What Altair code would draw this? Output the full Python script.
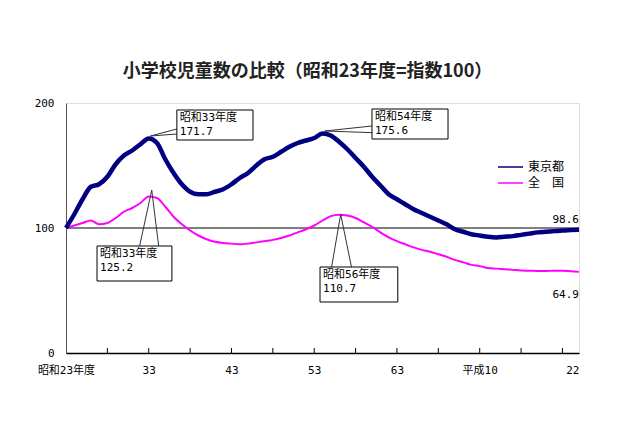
import json
import altair as alt
import pandas as pd

# ---------------- data ----------------
years = list(range(1948, 2011))
tokyo = [100, 111, 123, 133, 135, 141, 151, 158, 162, 167,
         171.7, 168, 155, 144, 135, 129, 127, 127, 129, 131,
         135, 140, 144, 150, 155, 157, 161, 165, 168, 170,
         172, 175.6, 174, 169, 163, 156, 149, 141, 134, 127,
         123, 119, 115, 112, 109, 106, 103, 99, 97, 95,
         94, 93, 92.5, 93, 93.5, 94.5, 95.5, 96.5, 97, 97.5,
         98, 98.3, 98.6]
national = [100, 102, 104, 106, 103, 104, 108, 113, 116, 120,
            125.2, 124, 117, 109, 103, 98, 94, 91, 89, 88,
            87.5, 87, 87.5, 88.5, 89.5, 90.5, 92, 94, 96.5, 99,
            102, 106, 109.5, 110.7, 110, 108, 104.5, 101, 96.5, 92.5,
            89.5, 87, 84.5, 82.5, 81, 79, 77, 74.5, 72.5, 70.5,
            69.5, 68, 67.5, 67, 66.5, 66, 65.8, 65.6, 65.6, 65.8,
            65.8, 65.4, 64.9]
series_names = ["東京都", "全　国"]
series_colors = ["#000080", "#FF00FF"]

label_years = [1948, 1958, 1968, 1978, 1988, 1998, 2010]
label_texts = ["昭和23年度", "33", "43", "53", "63", "平成10", "22"]
minor_tick_years = [1953, 1958, 1963, 1968, 1973, 1978, 1983, 1988, 1993, 1998, 2003, 2008]
y_ticks = [0, 100, 200]
base_index = [100]

callout_series = ["東京都", "全　国", "東京都", "全　国"]
callout_years = [1958, 1958, 1979, 1981]
callout_names = ["昭和33年度", "昭和33年度", "昭和54年度", "昭和56年度"]
callout_values = [171.7, 125.2, 175.6, 110.7]

end_series = ["東京都", "全　国"]
end_values = [98.6, 64.9]

title_text = "小学校児童数の比較（昭和23年度=指数100）"

# ---------------- layout (callout geometry in axis units) ----------------
callout_layout = [
    dict(box=(1961.4, 1970.6, 194.4, 170.4), tip=(1958.2, 173.6), bases=((1961.4, 179.2), (1961.4, 175.2))),
    dict(box=(1951.75, 1960.8, 85.6, 57.6), tip=(1958.36, 130.4), bases=((1956.9, 85.6), (1959.2, 85.6))),
    dict(box=(1984.98, 1994.17, 195.2, 171.2), tip=(1979.27, 177.6), bases=((1984.98, 181.6), (1984.98, 176.3))),
    dict(box=(1978.7, 1988.1, 68.8, 40.8), tip=(1981.2, 111.0), bases=((1980.1, 68.8), (1982.5, 68.8))),
]

FONT = "DejaVu Sans Mono, Noto Sans CJK JP"
JFONT = "Noto Sans CJK JP"

# ---------------- tables ----------------
rows = []
for y, t, n in zip(years, tokyo, national):
    rows.append(dict(year=y, value=t, series=series_names[0]))
    rows.append(dict(year=y, value=n, series=series_names[1]))
lines_df = pd.DataFrame(rows)

boxes, pointers = [], []
for i, (s, yr, nm, v, lay) in enumerate(zip(callout_series, callout_years, callout_names, callout_values, callout_layout)):
    x0, x1, yt, yb = lay["box"]
    boxes.append(dict(id=i, x0=x0, x1=x1, yt=yt, yb=yb, label=f"{nm}\n{v}"))
    (bx1, by1), (bx2, by2) = lay["bases"]
    tx, ty = lay["tip"]
    pointers += [dict(id=i, o=0, x=bx1, y=by1), dict(id=i, o=1, x=tx, y=ty), dict(id=i, o=2, x=bx2, y=by2)]
boxes_df = pd.DataFrame(boxes)
pointers_df = pd.DataFrame(pointers)

end_df = pd.DataFrame(dict(series=end_series, value=end_values, year=[years[-1]] * 2,
                           label=[f"{v}" for v in end_values]))
ticks_df = pd.DataFrame(dict(year=minor_tick_years))
base_df = pd.DataFrame(dict(value=base_index))

# ---------------- scales / axes ----------------
label_map = json.dumps({str(k): v for k, v in zip(label_years, label_texts)}, ensure_ascii=False)
xscale = alt.Scale(domain=[years[0], years[-1]], nice=False, zero=False)
yscale = alt.Scale(domain=[0, 200], nice=False)
color_scale = alt.Scale(domain=series_names, range=series_colors)

x_axis = alt.Axis(values=label_years, labelExpr=f"{label_map}[toString(datum.value)]",
                  ticks=False, grid=False, title=None, domainColor="#000000", domainWidth=1.5,
                  labelFont=FONT, labelFontSize=11, labelColor="#000000", labelPadding=11,
                  labelAlign=alt.ExprRef(expr=f"datum.value == {years[-1]} ? 'right' : 'center'"),
                  labelFlush=False, labelOverlap=False)
y_axis = alt.Axis(values=y_ticks, ticks=False, grid=False, title=None, domainColor="#555555",
                  labelFont=FONT, labelFontSize=11, labelColor="#000000", labelPadding=12)

base = alt.Chart(lines_df)

baseline = alt.Chart(base_df).mark_rule(color="#000000", strokeWidth=1).encode(
    y=alt.Y("value:Q", scale=yscale, axis=y_axis))

minor_ticks = alt.Chart(ticks_df).mark_rule(color="#000000", strokeWidth=1).encode(
    x=alt.X("year:Q", scale=xscale, axis=x_axis), y=alt.datum(0), y2=alt.datum(4))

legend = alt.Legend(title=None, orient="none", legendX=431, legendY=56, symbolType="stroke",
                    symbolSize=625, symbolStrokeWidth=1.5, labelFont=JFONT, labelFontSize=12,
                    labelColor="#000000", rowPadding=0, clipHeight=16, labelOffset=4)

line_nat = base.transform_filter(alt.datum.series == series_names[1]).mark_line(
    strokeWidth=2, interpolate="monotone").encode(
    x=alt.X("year:Q", scale=xscale, axis=x_axis),
    y=alt.Y("value:Q", scale=yscale, axis=y_axis),
    color=alt.Color("series:N", scale=color_scale, legend=legend, sort=series_names))

line_tok = base.transform_filter(alt.datum.series == series_names[0]).mark_line(
    strokeWidth=4.5, interpolate="monotone").encode(
    x=alt.X("year:Q", scale=xscale, axis=x_axis),
    y=alt.Y("value:Q", scale=yscale, axis=y_axis),
    color=alt.Color("series:N", scale=color_scale, legend=legend, sort=series_names))

pointer_lines = alt.Chart(pointers_df).mark_line(color="#333333", strokeWidth=1).encode(
    x="x:Q", y="y:Q", detail="id:N", order="o:Q")

box_rects = alt.Chart(boxes_df).mark_rect(fill="#FFFFFF", stroke="#000000", strokeWidth=1).encode(
    x="x0:Q", x2="x1", y="yt:Q", y2="yb")

box_text = alt.Chart(boxes_df).mark_text(align="left", baseline="top", dx=3, dy=2, font=FONT,
                                         fontSize=11, lineBreak="\n", lineHeight=14,
                                         color="#000000").encode(
    x="x0:Q", y="yt:Q", text="label:N")

end_top = alt.Chart(end_df).transform_filter(alt.datum.series == end_series[0]).mark_text(
    align="right", baseline="middle", dy=-10, font=FONT, fontSize=11, color="#000000").encode(
    x="year:Q", y="value:Q", text="label:N")
end_bot = alt.Chart(end_df).transform_filter(alt.datum.series == end_series[1]).mark_text(
    align="right", baseline="middle", dy=23, font=FONT, fontSize=11, color="#000000").encode(
    x="year:Q", y="value:Q", text="label:N")

chart = alt.layer(baseline, minor_ticks, line_nat, line_tok, pointer_lines, box_rects, box_text,
                  end_top, end_bot).properties(
    width=513, height=250,
    autosize=alt.AutoSizeParams(type="none"),
    padding={"left": 58, "top": 95, "right": 53, "bottom": 65},
    title=alt.Title(title_text, font=JFONT, fontSize=18, fontWeight="bold", color="#222222",
                    anchor="middle", frame="group", offset=16, dx=-15),
).configure_view(stroke=None).configure(background="#FFFFFF")

chart.save("out.html", embed_options={"renderer": "svg", "actions": False})
